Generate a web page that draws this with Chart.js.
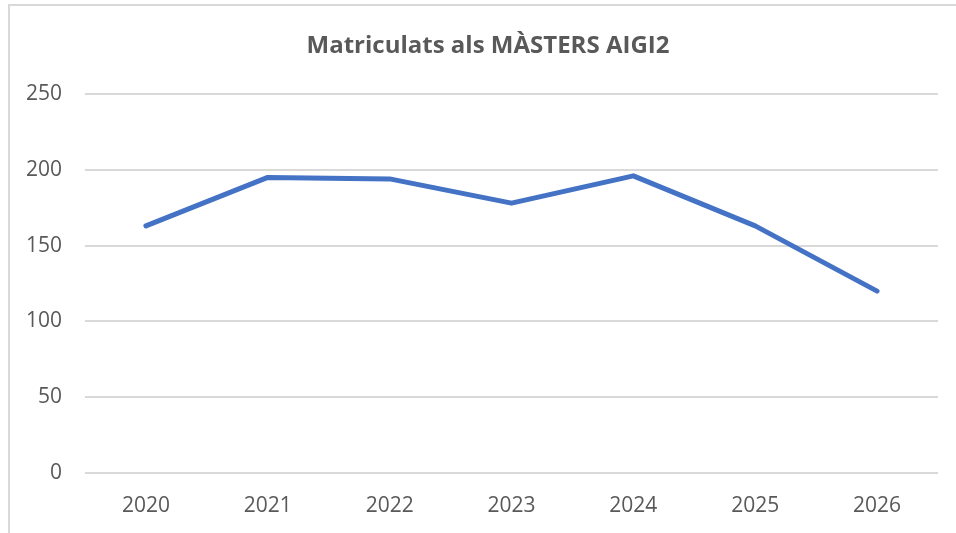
<!DOCTYPE html>
<html>
<head>
<meta charset="utf-8">
<script src="https://cdn.jsdelivr.net/npm/chart.js@4"></script>
<style>
  html, body { margin: 0; padding: 0; background: #fff; }
  #wrap { position: relative; width: 956px; height: 533px; }
  #frame {
    position: absolute; left: 8px; top: 4px; right: 0; bottom: 0;
    border-top: 2px solid #d9d9d9; border-left: 2px solid #d9d9d9;
    pointer-events: none;
  }
  canvas { position: absolute; left: 0; top: 0; }
</style>
</head>
<body>
<div id="wrap">
  <canvas id="chart" width="956" height="533"></canvas>
  <div id="frame"></div>
</div>
<script>
const years = ["2020", "2021", "2022", "2023", "2024", "2025", "2026"];
const matriculats = [163, 195, 194, 178, 196, 163, 120];
const yTicks = [0, 50, 100, 150, 200, 250];
const titleText = "Matriculats als MÀSTERS AIGI2";

const FONT = "'Open Sans', 'Liberation Sans', sans-serif";
const GREY = "#595959";

// the original title sits a bit right of the canvas centre, so draw it ourselves
const titlePlugin = {
  id: "offsetTitle",
  afterDraw(chart) {
    const ctx = chart.ctx;
    ctx.save();
    ctx.font = "bold 24px " + FONT;
    ctx.fillStyle = GREY;
    ctx.textAlign = "center";
    ctx.textBaseline = "middle";
    ctx.fillText(titleText, 488, 46);
    ctx.restore();
  }
};

new Chart(document.getElementById("chart"), {
  type: "line",
  data: {
    labels: years,
    datasets: [{
      label: "Matriculats",
      data: matriculats,
      borderColor: "#4472C4",
      backgroundColor: "#4472C4",
      borderWidth: 5,
      pointRadius: 0,
      tension: 0,
      borderCapStyle: "round",
      borderJoinStyle: "round"
    }]
  },
  plugins: [titlePlugin],
  options: {
    responsive: false,
    animation: false,
    layout: { padding: { left: 0, right: 18, top: 94, bottom: 0 } },
    plugins: {
      legend: { display: false },
      tooltip: { enabled: false },
      title: { display: false }
    },
    scales: {
      x: {
        offset: true,
        grid: { display: false, drawTicks: false },
        border: { display: false },
        ticks: { color: GREY, font: { family: FONT, size: 21 }, padding: 20 },
        afterFit: (s) => { s.height = 60; }
      },
      y: {
        min: 0,
        max: 250,
        afterBuildTicks: (s) => { s.ticks = yTicks.map(v => ({ value: v })); },
        grid: { color: "#d9d9d9", lineWidth: 2, drawTicks: false },
        border: { display: false },
        ticks: { color: GREY, font: { family: FONT, size: 21 }, padding: 23 },
        afterFit: (s) => { s.width = 85; }
      }
    }
  }
});
</script>
</body>
</html>
